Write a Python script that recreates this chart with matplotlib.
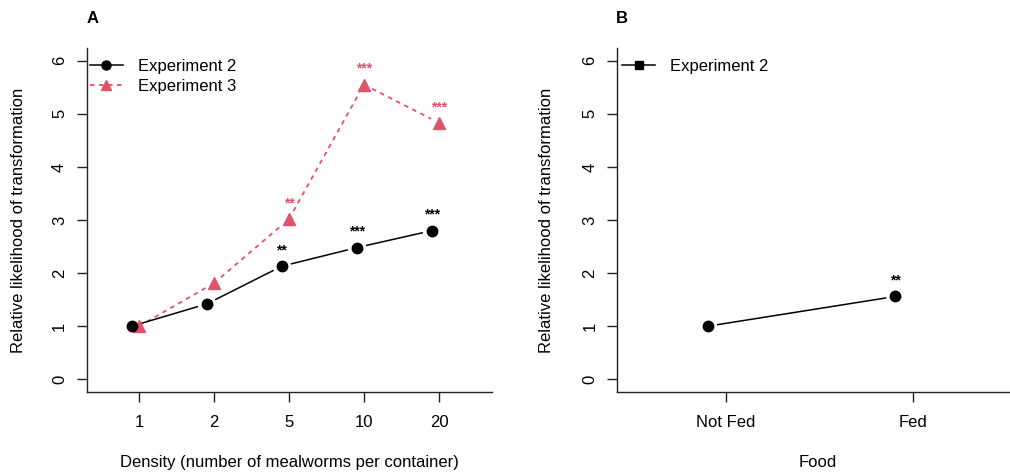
import numpy as np
import matplotlib
matplotlib.use("Agg")
import matplotlib.pyplot as plt
from matplotlib.lines import Line2D

plt.rcParams['font.family'] = ['Liberation Sans', 'DejaVu Sans']
plt.rcParams['font.size'] = 12

# panel A data
densities = ["1", "2", "5", "10", "20"]
exp2_density = [1.00, 1.42, 2.13, 2.48, 2.80]
exp3_density = [1.00, 1.81, 3.02, 5.55, 4.83]
exp2_density_sig = ["", "", "**", "***", "***"]
exp3_density_sig = ["", "", "**", "***", "***"]

# panel B data
food = ["Not Fed", "Fed"]
exp2_food = [1.00, 1.56]
exp2_food_sig = ["", "**"]

PINK = "#DF536B"
DODGE = -0.095


def gapped_line(ax, x, y, gap=10, **kw):
    # R type="b": segments stop short of each point
    pts = ax.transData.transform(np.column_stack([x, y]))
    inv = ax.transData.inverted()
    for p0, p1 in zip(pts[:-1], pts[1:]):
        d = p1 - p0
        L = np.hypot(*d)
        if L <= 2 * gap:
            continue
        u = d / L
        a = inv.transform(p0 + u * gap)
        b = inv.transform(p1 - u * gap)
        ax.plot([a[0], b[0]], [a[1], b[1]], **kw)


def stars(ax, x, y, labels, color):
    for xi, yi, s in zip(x, y, labels):
        if s:
            ax.annotate(s, (xi, yi), xytext=(0, 8.5), textcoords="offset points",
                        ha="center", va="baseline", fontsize=10, color=color,
                        fontweight="bold")


def style_axes(ax):
    for s in ["top", "right"]:
        ax.spines[s].set_visible(False)
    for s in ["left", "bottom"]:
        ax.spines[s].set_linewidth(1.0)
        ax.spines[s].set_color("#222222")
    ax.tick_params(length=7.5, width=1.0, color="#222222", labelsize=12)
    ax.tick_params(axis="x", pad=9)
    ax.tick_params(axis="y", pad=6.5)
    ax.set_ylim(-0.24, 6.24)
    ax.set_yticks(range(0, 7))
    for lab in ax.get_yticklabels():
        lab.set_rotation(90)
        lab.set_va("center")
        lab.set_ha("right")


fig = plt.figure(figsize=(10.1, 4.73), dpi=100)
W, H = 1010, 473
axA = fig.add_axes([86.5 / W, 81 / H, 405 / W, 344 / H])
axB = fig.add_axes([617 / W, 81 / H, 405 / W, 344 / H])

# ---- panel A
xA = np.arange(1, len(densities) + 1)
axA.set_xlim(0.3, 5.7)
style_axes(axA)
axA.set_xticks(xA)
axA.set_xticklabels(densities)

gapped_line(axA, xA, exp3_density, gap=9, color=PINK, lw=1.3,
            linestyle=(0, (2.5, 2.5)))
axA.plot(xA, exp3_density, "^", color=PINK, ms=8, zorder=3)
gapped_line(axA, xA + DODGE, exp2_density, gap=10, color="black", lw=1.1)
axA.plot(xA + DODGE, exp2_density, "o", color="black", ms=7.5, zorder=4)

stars(axA, xA + DODGE, exp2_density, exp2_density_sig, "black")
stars(axA, xA, exp3_density, exp3_density_sig, PINK)

axA.set_ylabel("Relative likelihood of transformation", va="center")
axA.yaxis.set_label_coords(-0.169, 0.5)
axA.set_xlabel("Density (number of mealworms per container)", va="center")
axA.xaxis.set_label_coords(0.5, -0.2035)
axA.text(0.016, 1.087, "A", transform=axA.transAxes, ha="center",
         va="center", fontweight="bold", fontsize=12)

handlesA = [
    Line2D([], [], color="black", lw=1.1, marker="o", ms=6.5),
    Line2D([], [], color=PINK, lw=1.3, linestyle=(0, (2.5, 2.5)),
           marker="^", ms=6.5),
]
axA.legend(handlesA, ["Experiment 2", "Experiment 3"], loc="upper left",
           bbox_to_anchor=(0.008, 0.968), frameon=False, borderpad=0,
           borderaxespad=0, handlelength=2.0, handletextpad=0.9,
           labelspacing=0.3, fontsize=12)

# ---- panel B
xB = np.arange(1, len(food) + 1)
axB.set_xlim(0.42, 2.58)
style_axes(axB)
axB.set_xticks(xB)
axB.set_xticklabels(food)

gapped_line(axB, xB + DODGE, exp2_food, gap=10, color="black", lw=1.1)
axB.plot(xB + DODGE, exp2_food, "o", color="black", ms=7.5, zorder=4)
stars(axB, xB + DODGE, exp2_food, exp2_food_sig, "black")

axB.set_ylabel("Relative likelihood of transformation", va="center")
axB.yaxis.set_label_coords(-0.173, 0.5)
axB.set_xlabel("Food", va="center")
axB.xaxis.set_label_coords(0.496, -0.2035)
axB.text(0.013, 1.087, "B", transform=axB.transAxes, ha="center",
         va="center", fontweight="bold", fontsize=12)

handlesB = [Line2D([], [], color="black", lw=1.1, marker="s", ms=6)]
axB.legend(handlesB, ["Experiment 2"], loc="upper left",
           bbox_to_anchor=(0.012, 0.968), frameon=False, borderpad=0,
           borderaxespad=0, handlelength=2.0, handletextpad=0.9, fontsize=12)

fig.savefig("out.png", dpi=100)
